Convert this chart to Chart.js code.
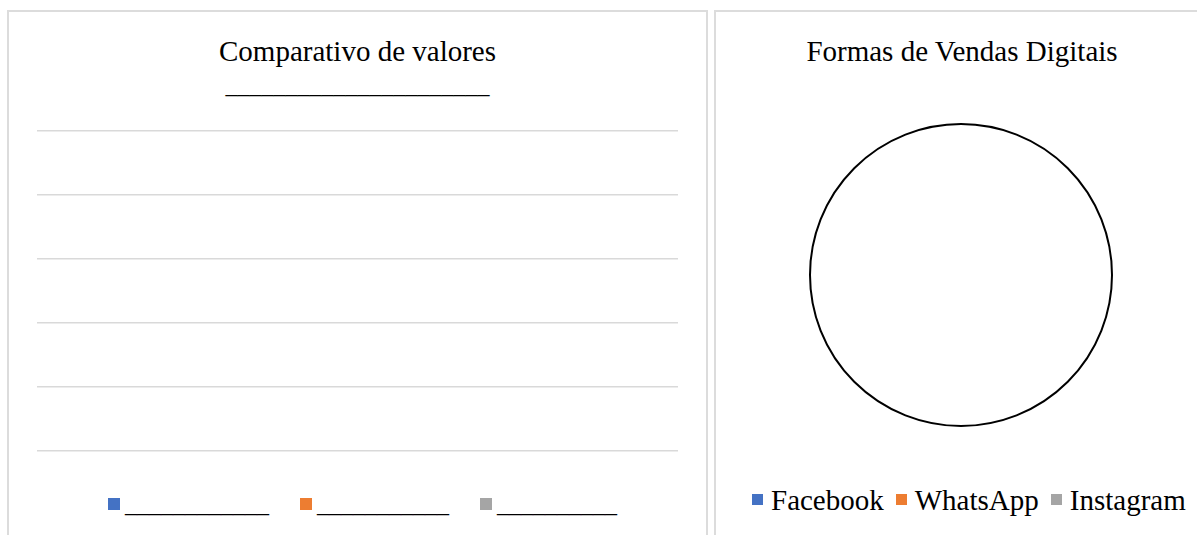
<!DOCTYPE html>
<html>
<head>
<meta charset="utf-8">
<script src="https://cdn.jsdelivr.net/npm/chart.js@4/dist/chart.umd.min.js"></script>
<style>
  body { margin: 0; background: #fff; width: 1197px; height: 535px; overflow: hidden; position: relative;
         font-family: "Liberation Serif", "DejaVu Serif", serif; color: #000; }
  .panel { position: absolute; box-sizing: border-box; border: 2px solid #dcdcdc; background: #fff; }
  .title { position: absolute; text-align: center; font-size: 29px; line-height: 32px; white-space: nowrap; }
  .uline { position: absolute; text-align: center; font-size: 24px; line-height: 27px; white-space: nowrap; }
  .legend { position: absolute; display: flex; white-space: nowrap; }
  .legend span.item { display: flex; align-items: center; }
  .legend-dot { display: inline-block; }
  canvas { position: absolute; }
</style>
</head>
<body>

<div class="panel" style="left:7px; top:10px; width:701px; height:540px;"></div>
<div class="panel" style="left:714px; top:10px; width:500px; height:540px;"></div>

<!-- Comparativo -->
<div class="title" style="left:7px; width:701px; top:35px;">Comparativo de valores</div>
<div class="uline" id="sub-barras" style="left:7px; width:701px; top:72px;"></div>
<canvas id="chartBarras" width="641" height="332" style="left:37px; top:125px; width:641px; height:332px;"></canvas>
<div class="legend" id="leg-barras" style="left:108px; top:491px; font-size:24px; line-height:27px;"></div>

<!-- Formas de Vendas -->
<div class="title" style="left:714px; width:496px; top:35px;">Formas de Vendas Digitais</div>
<canvas id="chartVendas" width="312" height="312" style="left:805px; top:119px; width:312px; height:312px;"></canvas>
<div class="legend" id="leg-vendas" style="left:752px; top:484px; font-size:29px; line-height:32px;"></div>

<script>
/* ── dados ── */
const BARRAS_CATEGORIAS = [''];
const BARRAS_SERIES     = ['____________', '___________', '__________'];
const BARRAS_VALORES    = [[0], [0], [0]];
const BARRAS_SUBTITULO  = '______________________';
const Y_TICKS           = [0, 1, 2, 3, 4, 5];

const VENDAS_LABELS  = ['Facebook', 'WhatsApp', 'Instagram'];
const VENDAS_VALORES = [0, 0, 0];

const CORES = ['#4472C4', '#ED7D31', '#A5A5A5'];

/* ── legendas html ── */
document.getElementById('sub-barras').textContent = BARRAS_SUBTITULO;

document.getElementById('leg-barras').innerHTML = BARRAS_SERIES.map((l, i) =>
  `<span class="item" style="margin-right:${i < BARRAS_SERIES.length - 1 ? 31 : 0}px">` +
  `<span class="legend-dot" style="width:12px;height:12px;background:${CORES[i]};margin-right:5px;margin-top:-1px"></span>${l}</span>`
).join('');

document.getElementById('leg-vendas').innerHTML = VENDAS_LABELS.map((l, i) =>
  `<span class="item" style="margin-right:${i < VENDAS_LABELS.length - 1 ? 12 : 0}px">` +
  `<span class="legend-dot" style="width:11px;height:11px;background:${CORES[i]};margin-right:8px;margin-top:-1px"></span>${l}</span>`
).join('');

/* ── gráfico de barras (vazio) ── */
new Chart(document.getElementById('chartBarras'), {
  type: 'bar',
  data: {
    labels: BARRAS_CATEGORIAS,
    datasets: BARRAS_SERIES.map((s, i) => ({ label: s, data: BARRAS_VALORES[i], backgroundColor: CORES[i], borderWidth: 0 }))
  },
  options: {
    responsive: false,
    animation: false,
    layout: { padding: { top: 6, bottom: 6, left: 0, right: 0 } },
    plugins: { legend: { display: false }, title: { display: false }, tooltip: { enabled: false } },
    scales: {
      x: { display: false },
      y: {
        min: Y_TICKS[0], max: Y_TICKS[Y_TICKS.length - 1],
        ticks: { display: false, stepSize: 1 },
        border: { display: false },
        grid: { color: '#d9d9d9', lineWidth: 1.5, drawTicks: false }
      }
    }
  }
});

/* ── pizza (vazia) com contorno ── */
const contorno = {
  id: 'contorno',
  afterDatasetsDraw(chart) {
    const arc = chart.getDatasetMeta(0).data[0];
    if (!arc) return;
    const ctx = chart.ctx;
    ctx.save();
    ctx.beginPath();
    ctx.arc(arc.x, arc.y, arc.outerRadius - 1, 0, Math.PI * 2);
    ctx.lineWidth = 2;
    ctx.strokeStyle = '#000';
    ctx.stroke();
    ctx.restore();
  }
};

new Chart(document.getElementById('chartVendas'), {
  type: 'pie',
  data: {
    labels: VENDAS_LABELS,
    datasets: [{ data: VENDAS_VALORES, backgroundColor: CORES, borderWidth: 0 }]
  },
  options: {
    responsive: false,
    animation: false,
    layout: { padding: 4 },
    plugins: { legend: { display: false }, tooltip: { enabled: false } }
  },
  plugins: [contorno]
});
</script>
</body>
</html>
